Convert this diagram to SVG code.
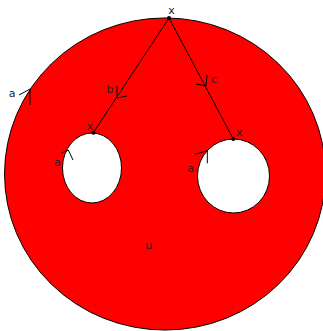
<svg xmlns="http://www.w3.org/2000/svg" width="323" height="331" viewBox="0 0 323 331">
<style>
.lbl{font-family:"DejaVu Sans",sans-serif;font-size:11px;fill:#222;text-anchor:middle;dominant-baseline:central}
.ln{stroke:#000;stroke-width:1;fill:none}
.ar{stroke:#000;stroke-width:1;fill:none}
</style>
<g id="region">
<path d="M 4.5 174 A 160.5 156 0 1 0 325.5 174 A 160.5 156 0 1 0 4.5 174 Z M 62.5 168 A 29.5 35 0 1 1 121.5 168 A 29.5 35 0 1 1 62.5 168 Z M 197.5 176 A 36 37 0 1 1 269.5 176 A 36 37 0 1 1 197.5 176 Z" fill="#ff0000" fill-rule="evenodd" stroke="#000" stroke-width="1"/>
</g>
<g id="connectors">
<line class="ln" x1="169" y1="18" x2="93.3" y2="132.7"/>
<line class="ln" x1="169" y1="18" x2="233.3" y2="139"/>
<polyline class="ar" points="117,86 117,98 127,96"/>
<polyline class="ar" points="196,84 206,86 207,75"/>
<polyline class="ar" points="19,95 30,89 30,105"/>
<polyline class="ar" points="61,153.3 68.3,150 73,160"/>
<polyline class="ar" points="195,154.3 207.3,150.7 207.3,163.3"/>
</g>
<g id="dots">
<circle cx="169" cy="18" r="2"/>
<circle cx="93.3" cy="132.7" r="2"/>
<circle cx="233.3" cy="139" r="2"/>
</g>
<g id="labels">
<text class="lbl" x="171.5" y="10">x</text>
<text class="lbl" x="12" y="93">a</text>
<text class="lbl" x="110" y="89">b</text>
<text class="lbl" x="214" y="79">c</text>
<text class="lbl" x="90" y="126">x</text>
<text class="lbl" x="57.3" y="162">a</text>
<text class="lbl" x="239.3" y="132.5">x</text>
<text class="lbl" x="190.7" y="168">a</text>
<text class="lbl" x="148.7" y="245">u</text>
</g>
</svg>
